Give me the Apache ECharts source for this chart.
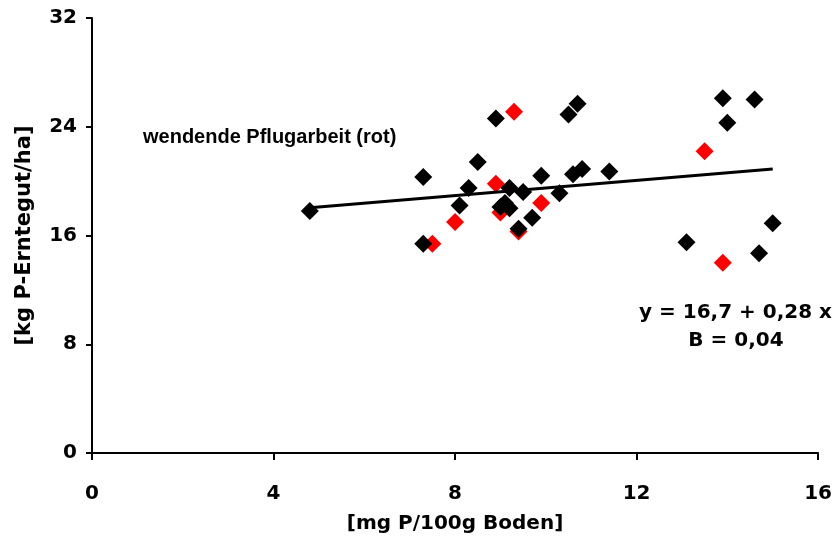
<!DOCTYPE html>
<html>
<head>
<meta charset="utf-8">
<script src="https://cdn.jsdelivr.net/npm/echarts@6/dist/echarts.min.js"></script>
<style>
html,body{margin:0;padding:0;background:#fff;}
#c{width:835px;height:543px;}
</style>
</head>
<body>
<div id="c"></div>
<script>
// Black points (x: mg P/100g Boden, y: kg P-Erntegut/ha)
var blackX = [4.8, 7.3, 7.3, 8.1, 8.3, 8.5, 8.9, 9.2, 9.0, 9.2, 9.1, 9.5, 9.4, 9.7, 9.9, 10.3, 10.5, 10.7, 10.8, 10.6, 11.4, 13.9, 14.6, 14.0, 15.0, 13.1, 14.7];
var blackY = [17.8, 20.3, 15.4, 18.2, 19.5, 21.4, 24.6, 19.5, 18.1, 18.0, 18.4, 19.2, 16.5, 17.3, 20.4, 19.1, 24.9, 25.7, 20.9, 20.5, 20.7, 26.1, 26.0, 24.3, 16.9, 15.5, 14.7];
// Red points (wendende Pflugarbeit)
var redX = [7.5, 8.0, 9.3, 8.9, 9.0, 9.4, 9.9, 13.5, 13.9];
var redY = [15.4, 17.0, 25.1, 19.8, 17.7, 16.3, 18.4, 22.2, 14.0];
// Regression line y = a + b x over the data range
var fitA = 16.7, fitB = 0.28;
var fitX = [4.8, 15.0];
var xTicks = [0, 4, 8, 12, 16];
var yTicks = [0, 8, 16, 24, 32];

function zip(xs, ys){ return xs.map(function(v,i){ return [v, ys[i]]; }); }
var fitData = fitX.map(function(x){ return [x, fitA + fitB*x]; });

var wide = '"DejaVu Sans", "Liberation Sans", Arial, sans-serif';
var arial = '"Liberation Sans", Arial, sans-serif';

var chart = echarts.init(document.getElementById('c'), null, {renderer:'canvas'});
chart.setOption({
  animation:false,
  backgroundColor:'#fff',
  grid:{left:92, right:14, top:18, bottom:90, containLabel:false},
  xAxis:{
    type:'value', min:xTicks[0], max:xTicks[xTicks.length-1], interval:4,
    name:'[mg P/100g Boden]', nameLocation:'middle', nameGap:61,
    nameTextStyle:{fontFamily:wide, fontWeight:'bold', fontSize:20, color:'#000'},
    axisLine:{show:true, onZero:false, lineStyle:{color:'#000', width:2}},
    axisTick:{show:true, length:7, inside:false, lineStyle:{color:'#000', width:2}},
    axisLabel:{margin:31, fontFamily:wide, fontWeight:'bold', fontSize:20, color:'#000'},
    splitLine:{show:false}
  },
  yAxis:{
    type:'value', min:yTicks[0], max:yTicks[yTicks.length-1], interval:8,
    name:'[kg P-Erntegut/ha]', nameLocation:'middle', nameGap:57, nameRotate:90,
    nameTextStyle:{fontFamily:wide, fontWeight:'bold', fontSize:21, color:'#000'},
    axisLine:{show:true, onZero:false, lineStyle:{color:'#000', width:2}},
    axisTick:{show:true, length:6, inside:false, lineStyle:{color:'#000', width:2}},
    axisLabel:{margin:15, fontFamily:wide, fontWeight:'bold', fontSize:20, color:'#000'},
    splitLine:{show:false}
  },
  series:[
    {type:'scatter', name:'rot', data:zip(redX, redY), symbol:'diamond', symbolSize:18,
     itemStyle:{color:'#ff0000', opacity:1}, z:2},
    {type:'scatter', name:'schwarz', data:zip(blackX, blackY), symbol:'diamond', symbolSize:18,
     itemStyle:{color:'#000000', opacity:1}, z:3},
    {type:'line', name:'Regression', data:fitData, symbol:'none', silent:true,
     lineStyle:{color:'#000', width:3}, z:4}
  ],
  graphic:[
    {type:'text', x:143, y:137, style:{text:'wendende Pflugarbeit (rot)', font:'bold 20px ' + arial, fill:'#000', textAlign:'left', textVerticalAlign:'middle'}},
    {type:'text', x:832, y:313, style:{text:'y = 16,7 + 0,28 x', font:'bold 20px ' + wide, fill:'#000', textAlign:'right', textVerticalAlign:'middle'}},
    {type:'text', x:736, y:341, style:{text:'B = 0,04', font:'bold 20px ' + wide, fill:'#000', textAlign:'center', textVerticalAlign:'middle'}}
  ]
});
</script>
</body>
</html>
